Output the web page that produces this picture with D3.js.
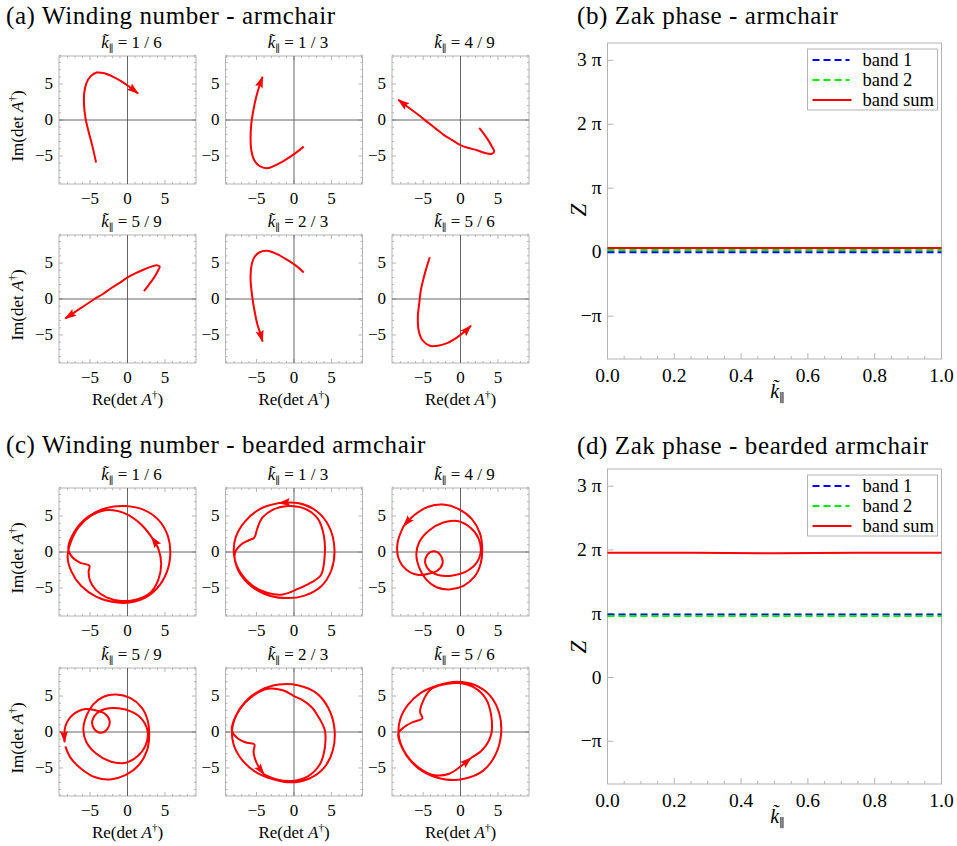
<!DOCTYPE html>
<html>
<head>
<meta charset="utf-8">
<script src="https://cdn.jsdelivr.net/npm/d3@7"></script>
<style>
body { margin: 0; background: #fff; }
svg text { fill: #000; }
</style>
</head>
<body>
<svg id="fig" width="957" height="846" font-family="Liberation Serif, Times New Roman, DejaVu Serif, serif"></svg>
<script>
// ---- data ----
var kTitles = ["1 / 6", "1 / 3", "4 / 9", "5 / 9", "2 / 3", "5 / 6"];

// (a) armchair, Re/Im of det A^dagger
var arm16 = [[-4.2,-5.9],[-4.7,-3.6],[-5.2,-1.6],[-5.6,0.2],[-5.8,2],[-5.8,3.6],[-5.5,5.1],[-4.9,6.1],[-4.1,6.6],[-3.1,6.5],[-1.9,6],[-0.7,5.3],[0.4,4.5],[1.4,3.7]];
var arm13 = [[1.3,-3.7],[0.2,-4.6],[-1.1,-5.5],[-2.5,-6.3],[-3.6,-6.7],[-4.6,-6.4],[-5.3,-5.6],[-5.7,-4.2],[-5.8,-2.5],[-5.7,-0.5],[-5.4,1.5],[-5,3.4],[-4.6,4.8],[-4.2,6]];
var arm49 = [[2.5,-1.1],[3.1,-1.9],[3.7,-2.8],[4.2,-3.7],[4.5,-4.4],[4.2,-4.7],[3.3,-4.6],[2.2,-4.2],[1.1,-3.9],[0,-3.5],[-1.1,-2.8],[-2.2,-2.1],[-3.3,-1.2],[-4.4,-0.3],[-5.6,0.7],[-6.9,1.7],[-8.3,2.8]];
var arm59 = [[2.2,1.1],[2.8,1.9],[3.5,2.9],[4,3.8],[4.3,4.5],[3.9,4.7],[3.2,4.5],[2.2,4.1],[1.1,3.6],[0,3],[-1.1,2.2],[-2.2,1.5],[-3.3,0.7],[-4.4,0],[-5.7,-0.9],[-7,-1.8],[-8.3,-2.7]];
var arm23 = [[1.3,3.7],[0.3,4.6],[-1,5.5],[-2.4,6.3],[-3.6,6.7],[-4.6,6.5],[-5.3,5.8],[-5.7,4.5],[-5.8,2.7],[-5.6,0.5],[-5.3,-1.5],[-4.9,-3.5],[-4.5,-4.8],[-4.2,-5.9]];
var arm56 = [[-4.1,5.8],[-4.5,4.5],[-4.9,3],[-5.3,1.2],[-5.5,-0.5],[-5.7,-2.5],[-5.6,-4.3],[-5.1,-5.7],[-4.1,-6.5],[-3,-6.5],[-1.7,-6.1],[-0.4,-5.3],[0.6,-4.5],[1.4,-3.7]];

// (c) bearded armchair
var bea16 = [[3.2,2.1],[2.3,3.3],[1.3,4.3],[0.2,5.1],[-1.3,5.7],[-3,5.8],[-4.8,5.1],[-6.5,3.5],[-7.6,1.3],[-8,-0.7],[-7.5,-2.7],[-6.2,-4.7],[-4.2,-6.2],[-1.6,-7],[1,-6.9],[3.3,-5.7],[5,-3.4],[5.7,-0.6],[5.4,2.2],[4.1,4.5],[2.1,5.9],[-0.4,6.4],[-2.9,6.1],[-5.3,4.9],[-7.1,2.8],[-7.9,0.4],[-7.3,-0.8],[-6.3,-1.5],[-5.1,-1.9],[-5.2,-2.8],[-5,-4],[-4.2,-5.3],[-2.8,-6.3],[-0.8,-6.8],[1.2,-6.6],[3,-5.7],[4.1,-3.9],[4.5,-1.6],[4.1,0.5],[3.2,2.1]];
var bea13 = [[-2,6.8],[-4.5,6],[-6.5,4.3],[-7.8,2],[-8,-0.5],[-7.2,-2.8],[-5.5,-4.7],[-3.5,-5.7],[-1.5,-5.9],[0.6,-5.1],[2.2,-4.3],[3.6,-3.2],[4.1,-0.5],[4,2.2],[3.2,4.6],[1.5,6],[-0.8,6.4],[-2.8,5.9],[-4.2,4.8],[-4.9,3.3],[-5.3,2],[-6.1,1.6],[-7.1,1],[-7.9,-0.2],[-7.6,-2.2],[-6.2,-4.3],[-4,-5.8],[-1.3,-6.4],[1.3,-6.1],[3.6,-4.8],[5,-2.5],[5.4,0.5],[4.7,3.5],[3,5.7],[0.5,6.8],[-2,6.8]];
var bea49 = [[-7.6,3.6],[-8.4,1.3],[-8.3,-0.8],[-7.3,-2.4],[-5.6,-3.2],[-4.2,-3.0],[-3.1,-2.6],[-2.4,-1.6],[-2.7,-0.4],[-3.6,0.1],[-4.5,-0.5],[-4.7,-1.6],[-4.1,-2.6],[-3,-3.2],[-1.2,-3.3],[0.6,-2.8],[2,-1.7],[2.7,0],[2.4,1.9],[1.3,3.4],[-0.4,4.3],[-2.3,4.1],[-4.2,3],[-5.5,1.4],[-5.9,-0.3],[-5.5,-2.2],[-4.6,-3.8],[-3.2,-4.9],[-1.5,-5.2],[0.4,-4.7],[1.9,-3.4],[2.7,-1.6],[2.9,0.4],[2.6,2.6],[1.5,4.6],[-0.3,6],[-2.3,6.6],[-4.3,6.3],[-6.2,5.1],[-7.6,3.6]];
var bea59 = [[-8.3,-2],[-7.6,-3.6],[-6.2,-5.1],[-4.3,-6.3],[-2.3,-6.6],[-0.3,-6],[1.5,-4.6],[2.6,-2.6],[2.9,-0.4],[2.7,1.6],[1.9,3.4],[0.4,4.7],[-1.5,5.2],[-3.2,4.9],[-4.6,3.8],[-5.5,2.2],[-5.9,0.3],[-5.5,-1.4],[-4.2,-3],[-2.3,-4.1],[-0.4,-4.3],[1.3,-3.4],[2.4,-1.9],[2.7,0],[2,1.7],[0.6,2.8],[-1.2,3.3],[-3,3.2],[-4.1,2.6],[-4.7,1.6],[-4.5,0.5],[-3.6,-0.1],[-2.7,0.4],[-2.4,1.6],[-3.1,2.6],[-4.2,3.0],[-5.6,3.2],[-7.3,2.4],[-8.3,0.8],[-8.4,-1.4]];
var bea23 = [[-4,-5.9],[-2.3,-6.6],[-0.3,-6.8],[1.8,-6.2],[3.4,-4.6],[4.1,-2.3],[4.1,0.3],[3.2,2.2],[2.4,3.4],[1.2,4.4],[0,5],[-1.5,5.8],[-3.5,6],[-5.5,5],[-7.2,3.2],[-8.2,0.8],[-8.1,-1.6],[-7,-3.8],[-5.2,-5.5],[-3,-6.5],[-0.5,-7],[2,-6.5],[4,-5],[5.2,-2.5],[5.4,0.5],[4.6,3.3],[3,5.4],[0.5,6.5],[-2,6.6],[-4.5,5.8],[-6.5,4.2],[-7.8,2.2],[-8.3,0.2],[-7.5,-0.9],[-6.3,-1.5],[-5.3,-1.7],[-5.4,-2.8],[-5,-4.3],[-4,-5.9]];
var bea56 = [[1.4,-3.6],[3,-2.4],[4.1,-0.3],[4.1,2.3],[3.4,4.6],[1.8,6.2],[-0.3,6.8],[-2.3,6.6],[-4,5.9],[-5,4.3],[-5.4,2.8],[-5.1,1.9],[-6.3,1.4],[-7.5,0.7],[-8.3,-0.2],[-7.8,-2.2],[-6.5,-4.2],[-4.5,-5.8],[-2,-6.6],[0.5,-6.5],[3,-5.4],[4.6,-3.3],[5.4,-0.5],[5.2,2.5],[4,5],[2,6.5],[-0.5,7],[-3,6.5],[-5.2,5.5],[-7,3.8],[-8.1,1.6],[-8.2,-0.8],[-7.2,-3.2],[-5.5,-5],[-3.5,-6],[-1.5,-5.8],[0,-4.8],[1.4,-3.6]];

// (b), (d) Zak phase, in units of pi
var zakK = [0, 0.25, 0.5, 0.75, 1];
var armBand1 = [0, 0, 0, 0, 0];
var armBand2 = [0.035, 0.035, 0.035, 0.035, 0.035];
var armSum = [0.065, 0.065, 0.065, 0.065, 0.065];
var beaBand1 = [0.99, 0.99, 0.99, 0.99, 0.99];
var beaBand2 = [0.965, 0.965, 0.965, 0.965, 0.965];
var beaSum = [1.955, 1.955, 1.948, 1.955, 1.955];
var legendNames = ["band 1", "band 2", "band sum"];
var piTicks = [-1, 0, 1, 2, 3];
var piTickLabels = ["\u2212\u03c0", "0", "\u03c0", "2 \u03c0", "3 \u03c0"];

// ---- drawing ----
var svg = d3.select("#fig");
var RED = "#ff0000", BLUE = "#0000ff", GREEN = "#00ee00", FRAME = "#b4b4b4";

svg.append("defs").append("marker")
    .attr("id", "arrow")
    .attr("viewBox", "0 -5 12 10")
    .attr("refX", 11).attr("refY", 0)
    .attr("markerWidth", 12).attr("markerHeight", 10)
    .attr("markerUnits", "userSpaceOnUse")
    .attr("orient", "auto")
  .append("path").attr("d", "M0,-4L12,0L0,4L2,0Z").attr("fill", RED);

function kLabel(sel, rest, size) {
    sel.append("tspan").attr("font-style", "italic").text("k\u0303");
    sel.append("tspan").attr("font-size", size * 0.6).attr("dy", 4).text("\u2225");
    if (rest) sel.append("tspan").attr("dy", -4).text(rest);
}

function detLabel(sel, prefix) {
    sel.append("tspan").text(prefix + "(det ");
    sel.append("tspan").attr("font-style", "italic").text("A");
    sel.append("tspan").attr("font-size", 11).attr("dy", -7).text("\u2020");
    sel.append("tspan").attr("dy", 7).text(")");
}

var cols = [59, 225.5, 392], rows = [56, 235, 488, 668];
var PW = 137, PH = 128;

function smallPanel(px, py, pts, title, showY, showX) {
    var g = svg.append("g").attr("transform", "translate(" + px + "," + py + ")");
    var x = d3.scaleLinear().domain([-9.15, 9.15]).range([0, PW]);
    var y = d3.scaleLinear().domain([-8.9, 8.9]).range([PH, 0]);

    g.append("rect").attr("width", PW).attr("height", PH)
        .attr("fill", "none").attr("stroke", FRAME).attr("stroke-width", 1);

    var ticks = d3.range(-9, 10, 1);
    ticks.forEach(function (t) {
        var len = (t % 5 === 0) ? 4 : 2;
        g.append("line").attr("x1", x(t)).attr("x2", x(t)).attr("y1", PH).attr("y2", PH - len).attr("stroke", FRAME);
        g.append("line").attr("x1", x(t)).attr("x2", x(t)).attr("y1", 0).attr("y2", len).attr("stroke", FRAME);
        if (t > -9) {
            g.append("line").attr("y1", y(t)).attr("y2", y(t)).attr("x1", 0).attr("x2", len).attr("stroke", FRAME);
            g.append("line").attr("y1", y(t)).attr("y2", y(t)).attr("x1", PW).attr("x2", PW - len).attr("stroke", FRAME);
        }
    });

    g.append("line").attr("x1", 0).attr("x2", PW).attr("y1", y(0)).attr("y2", y(0)).attr("stroke", "#555").attr("stroke-width", 0.9);
    g.append("line").attr("x1", x(0)).attr("x2", x(0)).attr("y1", 0).attr("y2", PH).attr("stroke", "#555").attr("stroke-width", 0.9);

    [-5, 0, 5].forEach(function (t) {
        g.append("text").attr("x", x(t)).attr("y", PH + 20).attr("text-anchor", "middle")
            .attr("font-size", 17).text(t < 0 ? "\u2212" + (-t) : t);
        g.append("text").attr("x", -6).attr("y", y(t) + 5).attr("text-anchor", "end")
            .attr("font-size", 17).text(t < 0 ? "\u2212" + (-t) : t);
    });

    var line = d3.line().x(function (d) { return x(d[0]); }).y(function (d) { return y(d[1]); })
        .curve(d3.curveCatmullRom.alpha(0.5));
    g.append("path").datum(pts).attr("d", line)
        .attr("fill", "none").attr("stroke", RED).attr("stroke-width", 2)
        .attr("stroke-linejoin", "round").attr("marker-end", "url(#arrow)");

    var tt = g.append("text").attr("x", PW / 2 + 4).attr("y", -8).attr("text-anchor", "middle").attr("font-size", 17);
    kLabel(tt, " = " + title, 17);

    if (showY) {
        var yl = g.append("text").attr("transform", "translate(-36," + (PH / 2 + 6) + ") rotate(-90)")
            .attr("text-anchor", "middle").attr("font-size", 17);
        detLabel(yl, "Im");
    }
    if (showX) {
        var xl = g.append("text").attr("x", PW / 2).attr("y", PH + 42)
            .attr("text-anchor", "middle").attr("font-size", 17);
        detLabel(xl, "Re");
    }
}

var armSets = [arm16, arm13, arm49, arm59, arm23, arm56];
var beaSets = [bea16, bea13, bea49, bea59, bea23, bea56];
armSets.forEach(function (pts, i) {
    var r = Math.floor(i / 3), c = i % 3;
    smallPanel(cols[c], rows[r], pts, kTitles[i], c === 0, r === 1);
});
beaSets.forEach(function (pts, i) {
    var r = Math.floor(i / 3), c = i % 3;
    smallPanel(cols[c], rows[r + 2], pts, kTitles[i], c === 0, r === 1);
});

var titles = [
    { x: 6, y: 24, t: "(a) Winding number - armchair" },
    { x: 6, y: 453, t: "(c) Winding number - bearded armchair" },
    { x: 577, y: 24, t: "(b) Zak phase - armchair" },
    { x: 577, y: 454, t: "(d) Zak phase - bearded armchair" }
];
titles.forEach(function (d) {
    svg.append("text").attr("x", d.x).attr("y", d.y).attr("font-size", 25)
        .attr("letter-spacing", 0.6).text(d.t);
});

function zakPanel(px, py, h, series, zLabelY) {
    var w = 334;
    var g = svg.append("g").attr("transform", "translate(" + px + "," + py + ")");
    var x = d3.scaleLinear().domain([0, 1]).range([0, w]);
    var y = d3.scaleLinear().domain([-1.67, 3.27]).range([h, 0]);

    g.append("rect").attr("width", w).attr("height", h).attr("fill", "none").attr("stroke", FRAME);

    d3.range(0, 1.0001, 0.05).forEach(function (t) {
        var major = Math.abs(t * 5 - Math.round(t * 5)) < 1e-6;
        g.append("line").attr("x1", x(t)).attr("x2", x(t)).attr("y1", h).attr("y2", h - (major ? 6 : 3)).attr("stroke", FRAME);
        if (major) {
            g.append("text").attr("x", x(t)).attr("y", h + 23).attr("text-anchor", "middle")
                .attr("font-size", 19.5).text(d3.format(".1f")(t));
        }
    });
    piTicks.forEach(function (t, i) {
        g.append("line").attr("x1", 0).attr("x2", 6).attr("y1", y(t)).attr("y2", y(t)).attr("stroke", FRAME);
        g.append("text").attr("x", -6).attr("y", y(t) + 6).attr("text-anchor", "end")
            .attr("font-size", 19.5).text(piTickLabels[i]);
    });

    var xl = g.append("text").attr("x", w / 2 + 3).attr("y", h + 39).attr("text-anchor", "middle").attr("font-size", 20);
    kLabel(xl, "", 20);
    g.append("text").attr("transform", "translate(-22," + zLabelY + ") rotate(-90)")
        .attr("text-anchor", "middle").attr("font-size", 23).attr("font-style", "italic").text("Z");

    var line = d3.line().x(function (d, i) { return x(zakK[i]); }).y(function (d) { return y(d); });
    series.forEach(function (s) {
        g.append("path").datum(s.values).attr("d", line).attr("fill", "none")
            .attr("stroke", s.color).attr("stroke-width", 2)
            .attr("stroke-dasharray", s.dash ? "7,4" : null);
    });

    // legend
    var lg = g.append("g").attr("transform", "translate(" + (w - 134) + ",6)");
    lg.append("rect").attr("width", 130).attr("height", 61).attr("fill", "#fff").attr("stroke", FRAME);
    series.forEach(function (s, i) {
        var ly = 11 + i * 20;
        lg.append("line").attr("x1", 5).attr("x2", s.dash ? 42 : 44).attr("y1", ly).attr("y2", ly)
            .attr("stroke", s.color).attr("stroke-width", 2).attr("stroke-dasharray", s.dash ? "7,4" : null);
        lg.append("text").attr("x", 55).attr("y", ly + 6).attr("font-size", 18.5).text(legendNames[i]);
    });
}

zakPanel(607.5, 43, 316, [
    { values: armBand1, color: BLUE, dash: true },
    { values: armBand2, color: GREEN, dash: true },
    { values: armSum, color: RED, dash: false }
], 167);
zakPanel(607.5, 469, 315, [
    { values: beaBand1, color: BLUE, dash: true },
    { values: beaBand2, color: GREEN, dash: true },
    { values: beaSum, color: RED, dash: false }
], 178);
</script>
</body>
</html>
